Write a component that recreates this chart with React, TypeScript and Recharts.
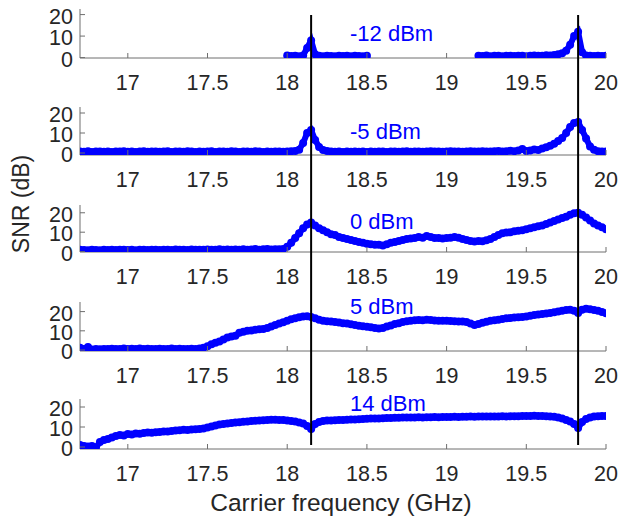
import { Line, LineChart, XAxis, YAxis } from "recharts";

// carrier frequency grid (GHz)
const freqGHz = [
  16.7, 16.725, 16.75, 16.775, 16.8, 16.825, 16.85, 16.875, 16.9, 16.925,
  16.95, 16.975, 17, 17.025, 17.05, 17.075, 17.1, 17.125, 17.15, 17.175,
  17.2, 17.225, 17.25, 17.275, 17.3, 17.325, 17.35, 17.375, 17.4, 17.425,
  17.45, 17.475, 17.5, 17.525, 17.55, 17.575, 17.6, 17.625, 17.65, 17.675,
  17.7, 17.725, 17.75, 17.775, 17.8, 17.825, 17.85, 17.875, 17.9, 17.925,
  17.95, 17.975, 18, 18.025, 18.05, 18.075, 18.1, 18.125, 18.15, 18.175,
  18.2, 18.225, 18.25, 18.275, 18.3, 18.325, 18.35, 18.375, 18.4, 18.425,
  18.45, 18.475, 18.5, 18.525, 18.55, 18.575, 18.6, 18.625, 18.65, 18.675,
  18.7, 18.725, 18.75, 18.775, 18.8, 18.825, 18.85, 18.875, 18.9, 18.925,
  18.95, 18.975, 19, 19.025, 19.05, 19.075, 19.1, 19.125, 19.15, 19.175,
  19.2, 19.225, 19.25, 19.275, 19.3, 19.325, 19.35, 19.375, 19.4, 19.425,
  19.45, 19.475, 19.5, 19.525, 19.55, 19.575, 19.6, 19.625, 19.65, 19.675,
  19.7, 19.725, 19.75, 19.775, 19.8, 19.825, 19.85, 19.875, 19.9, 19.925,
  19.95, 19.975, 20
];

const N = null;

// SNR (dB) per launch power
const snrM12 = [
  N, N, N, N, N, N, N, N, N, N,
  N, N, N, N, N, N, N, N, N, N,
  N, N, N, N, N, N, N, N, N, N,
  N, N, N, N, N, N, N, N, N, N,
  N, N, N, N, N, N, N, N, N, N,
  N, N, 1.0, 0.7, 0.9, 0.6, 1.0, 4.5, 8.0, 1.5,
  0.8, 0.6, 0.9, 0.7, 0.6, 0.8, 0.7, 0.9, 0.6, 0.8,
  0.7, 0.6, 0.8, N, N, N, N, N, N, N,
  N, N, N, N, N, N, N, N, N, N,
  N, N, N, N, N, N, N, N, N, N,
  0.9, 0.7, 1.0, 0.6, 0.8, 0.9, 0.6, 0.8, 0.9, 0.7,
  0.8, 0.9, 0.6, 0.8, 1.0, 0.8, 0.9, 1.1, 1.0, 1.2,
  1.5, 2.0, 3.2, 6.0, 10.0, 12.0, 2.5, 1.0, 0.8, 0.7,
  0.9, 0.7, 0.8
];

const snrM5 = [
  0.8, 0.6, 0.9, 0.5, 0.7, 0.8, 0.6, 0.7, 0.5, 0.8,
  0.7, 0.9, 0.6, 0.8, 0.5, 0.7, 0.9, 0.6, 0.8, 0.7,
  0.6, 0.8, 0.9, 0.5, 0.7, 0.8, 0.6, 0.9, 0.7, 0.5,
  0.8, 0.6, 0.7, 0.9, 0.5, 0.8, 0.7, 0.6, 0.9, 0.7,
  0.5, 0.8, 0.7, 0.6, 0.9, 0.7, 0.5, 0.8, 0.6, 0.7,
  0.8, 0.6, 0.7, 0.9, 1.0, 1.6, 5.0, 10.0, 11.5, 6.5,
  3.0, 1.5, 1.0, 0.8, 0.6, 0.7, 0.5, 0.8, 0.6, 0.7,
  0.6, 0.8, 0.5, 0.7, 0.6, 0.8, 0.7, 0.5, 0.7, 0.8,
  0.6, 0.7, 0.9, 0.6, 0.8, 0.7, 0.6, 0.8, 0.9, 0.7,
  0.8, 0.6, 0.7, 0.9, 0.7, 0.8, 0.6, 0.7, 0.9, 0.8,
  0.7, 0.9, 0.8, 0.7, 0.9, 1.0, 0.8, 0.9, 1.1, 0.9,
  1.2, 2.0, 1.0, 1.3, 1.7, 1.5, 2.3, 2.9, 3.6, 4.6,
  6.0, 7.5, 10.0, 13.0, 15.0, 15.5, 11.5, 7.3, 3.2, 1.6,
  0.9, 0.8, 0.8
];

const snr0 = [
  1.0, 0.8, 0.7, 0.9, 0.8, 0.7, 0.9, 0.8, 1.0, 0.8,
  0.9, 1.0, 0.8, 0.9, 0.7, 1.0, 0.9, 0.8, 1.0, 0.9,
  0.8, 1.0, 0.9, 0.8, 1.1, 0.9, 1.0, 0.8, 1.1, 0.9,
  1.0, 0.9, 1.1, 1.0, 0.9, 1.2, 1.0, 1.1, 0.9, 1.1,
  1.0, 1.2, 0.9, 1.1, 1.3, 1.0, 1.2, 1.4, 1.1, 1.2,
  1.2, 1.4, 2.5, 4.5, 7.0, 9.5, 12.0, 14.0, 15.0, 13.5,
  12.0, 11.0, 10.0, 9.0, 8.5, 7.5, 7.0, 6.5, 6.0, 5.5,
  5.0, 4.5, 4.0, 3.8, 3.5, 3.5, 3.2, 3.8, 4.5, 5.0,
  5.5, 6.0, 6.5, 6.8, 7.0, 7.5, 7.2, 8.0, 7.5, 7.0,
  7.0, 6.8, 7.0, 7.2, 7.5, 7.2, 6.5, 6.0, 5.5, 5.2,
  5.5, 5.3, 5.8, 6.5, 7.5, 8.5, 9.5, 9.8, 10.0, 10.5,
  10.8, 11.0, 11.5, 12.0, 12.5, 13.0, 13.5, 14.2, 15.0, 15.8,
  16.5, 17.3, 18.0, 19.0, 19.8, 20.0, 19.0, 17.5, 16.0, 14.5,
  13.5, 12.5, 11.5
];

const snr5 = [
  1.2, 0.5, 1.6, 0.3, 0.5, 0.4, 0.6, 0.5, 0.7, 0.5,
  0.6, 0.8, 0.5, 0.7, 0.6, 0.8, 0.5, 0.7, 0.6, 0.5,
  0.7, 0.5, 0.6, 0.8, 0.5, 0.7, 0.6, 0.5, 0.7, 0.6,
  0.8, 1.2, 2.0, 3.0, 3.8, 4.5, 5.5, 6.5, 7.0, 7.5,
  9.0, 9.5, 10.0, 10.2, 10.5, 10.8, 11.0, 11.5, 12.2, 13.0,
  13.8, 14.5, 15.2, 16.0, 16.5, 17.0, 17.5, 17.6, 17.2, 16.5,
  15.8, 15.3, 15.0, 14.8, 14.6, 14.3, 14.0, 13.8, 13.4, 13.0,
  12.7, 12.4, 12.1, 11.8, 11.5, 11.2, 11.5, 12.2, 12.8, 13.5,
  14.0, 14.6, 15.0, 15.3, 15.5, 15.6, 15.5, 15.7, 15.6, 15.4,
  15.3, 15.2, 15.2, 15.1, 15.0, 14.9, 14.8, 14.6, 13.8, 13.0,
  13.5, 14.2, 14.7, 15.2, 15.5, 15.8, 16.2, 16.5, 16.7, 16.9,
  17.0, 17.2, 17.4, 17.8, 18.2, 18.5, 18.8, 19.0, 19.3, 19.7,
  20.0, 20.4, 20.8, 21.0, 20.5, 19.3, 21.0, 21.5, 21.2, 20.8,
  20.5, 19.8, 19.2
];

const snr14 = [
  1.0, 0.5, 0.2, 0.5, -0.3, 2.5, 3.5, 4.0, 4.8, 5.5,
  6.0, 5.8, 6.5, 6.3, 6.8, 6.6, 7.0, 7.2, 7.1, 7.4,
  7.5, 7.7, 7.8, 8.0, 8.2, 8.4, 8.6, 8.5, 8.8, 8.9,
  9.0, 9.3, 9.8, 10.3, 10.8, 11.2, 11.5, 11.8, 12.0, 12.2,
  12.4, 12.6, 12.8, 13.0, 13.1, 13.3, 13.4, 13.5, 13.6, 13.6,
  13.5, 13.5, 13.3, 13.0, 12.7, 12.3, 11.8, 10.5, 9.0, 11.5,
  12.5, 13.0, 13.2, 13.3, 13.4, 13.5, 13.5, 13.6, 13.7, 13.8,
  13.9, 14.0, 14.1, 14.2, 14.2, 14.3, 14.4, 14.5, 14.5, 14.6,
  14.6, 14.7, 14.7, 14.8, 14.8, 14.9, 14.8, 14.9, 14.9, 15.0,
  14.9, 15.0, 15.0, 15.0, 15.1, 15.0, 15.1, 15.1, 15.2, 15.1,
  15.2, 15.2, 15.3, 15.2, 15.3, 15.3, 15.4, 15.3, 15.4, 15.4,
  15.4, 15.5, 15.5, 15.5, 15.6, 15.5, 15.5, 15.4, 15.3, 15.1,
  14.7, 14.2, 13.5, 12.7, 11.5, 9.5, 12.5, 14.0, 14.8, 15.2,
  15.4, 15.5, 15.5
];

const powerLabels = ["-12 dBm", "-5 dBm", "0 dBm", "5 dBm", "14 dBm"];
const powerSeries = [snrM12, snrM5, snr0, snr5, snr14];
const markerFreqs = [18.15, 19.825];
const xTicks = [17, 17.5, 18, 18.5, 19, 19.5, 20];
const yTicks = [0, 10, 20];

// layout of each subplot (pixel rows of the plot box, y limits, label row)
const panelLayout = [
  { top: 9, bottom: 58, yDomain: [-0.2, 22.6], labelY: 34 },
  { top: 107, bottom: 155, yDomain: [-1, 23], labelY: 132 },
  { top: 205, bottom: 252, yDomain: [-0.2, 24], labelY: 222 },
  { top: 302, bottom: 351, yDomain: [-0.5, 25], labelY: 307 },
  { top: 399, bottom: 449, yDomain: [-1, 24], labelY: 404 }
];

const FONT = '"Liberation Sans", Arial, Helvetica, sans-serif';
const BLUE = "#0000ff";
const INK = "#262626";
const AXIS = "#6e6e6e";
const W = 618;

function XTick({ x, y, payload }: any) {
  return (
    <g>
      <line x1={x} x2={x} y1={y} y2={y - 5} stroke={AXIS} />
      <text x={x} y={y + 25} textAnchor="middle" dominantBaseline="central" fontSize={21.5} fontFamily={FONT} fill={INK}>
        {payload.value}
      </text>
    </g>
  );
}

function YTick({ x, y, payload }: any) {
  return (
    <g>
      <line x1={x} x2={x + 5} y1={y} y2={y} stroke={AXIS} />
      <text x={x - 7} y={y + 2} textAnchor="end" dominantBaseline="central" fontSize={21.5} fontFamily={FONT} fill={INK}>
        {payload.value}
      </text>
    </g>
  );
}

function Panel({ values, layout }: { values: (number | null)[]; layout: (typeof panelLayout)[number] }) {
  const data = freqGHz.map((f, i) => ({ freq: f, snr: values[i] }));
  const marginTop = 10;
  const xAxisHeight = 40;
  const height = marginTop + (layout.bottom - layout.top) + xAxisHeight;
  return (
    <div style={{ position: "absolute", left: 0, top: layout.top - marginTop }}>
      <LineChart width={W} height={height} data={data} margin={{ top: marginTop, right: 12, bottom: 0, left: 0 }}>
        <XAxis
          dataKey="freq"
          type="number"
          domain={[16.7, 20]}
          ticks={xTicks}
          interval={0}
          height={xAxisHeight}
          tickSize={0}
          tickMargin={0}
          tickLine={false}
          axisLine={{ stroke: AXIS }}
          tick={(p: any) => <XTick {...p} />}
          allowDataOverflow
        />
        <YAxis
          type="number"
          domain={layout.yDomain}
          ticks={yTicks}
          interval={0}
          width={80}
          tickSize={0}
          tickMargin={0}
          tickLine={false}
          axisLine={{ stroke: AXIS }}
          tick={(p: any) => <YTick {...p} />}
          allowDataOverflow
        />
        <Line
          dataKey="snr"
          type="linear"
          stroke={BLUE}
          strokeWidth={6}
          dot={{ r: 4, fill: BLUE, stroke: "none" }}
          isAnimationActive={false}
        />
      </LineChart>
    </div>
  );
}

export default function App() {
  return (
    <div style={{ position: "absolute", left: 0, top: 0, width: W, height: 520, background: "#fff", overflow: "hidden", fontFamily: FONT }}>
      {powerSeries.map((values, i) => (
        <Panel key={powerLabels[i]} values={values} layout={panelLayout[i]} />
      ))}

      {/* vertical markers spanning all subplots, drawn as two-point series */}
      <div style={{ position: "absolute", left: 0, top: 0, pointerEvents: "none" }}>
        <LineChart width={W} height={520} margin={{ top: 15, right: 12, bottom: 75, left: 80 }}>
          <XAxis dataKey="freq" type="number" domain={[16.7, 20]} hide height={0} allowDataOverflow />
          <YAxis type="number" domain={[0, 1]} hide width={0} allowDataOverflow />
          {markerFreqs.map((f) => (
            <Line
              key={f}
              data={[{ freq: f, span: 0 }, { freq: f, span: 1 }]}
              dataKey="span"
              type="linear"
              stroke="#000"
              strokeWidth={2}
              dot={false}
              isAnimationActive={false}
            />
          ))}
        </LineChart>
      </div>

      {powerLabels.map((label, i) => (
        <div
          key={label}
          style={{
            position: "absolute",
            left: 350,
            top: panelLayout[i].labelY - 11,
            fontSize: 22,
            lineHeight: "22px",
            color: BLUE,
            whiteSpace: "nowrap"
          }}
        >
          {label}
        </div>
      ))}

      <div
        style={{
          position: "absolute",
          left: 21,
          top: 204,
          transform: "translate(-50%, -50%) rotate(-90deg)",
          fontSize: 23,
          lineHeight: "23px",
          color: INK,
          whiteSpace: "nowrap"
        }}
      >
        SNR (dB)
      </div>
      <div
        style={{
          position: "absolute",
          left: 341,
          top: 491,
          transform: "translateX(-50%)",
          fontSize: 24.5,
          lineHeight: "24.5px",
          color: INK,
          whiteSpace: "nowrap"
        }}
      >
        Carrier frequency (GHz)
      </div>
    </div>
  );
}
